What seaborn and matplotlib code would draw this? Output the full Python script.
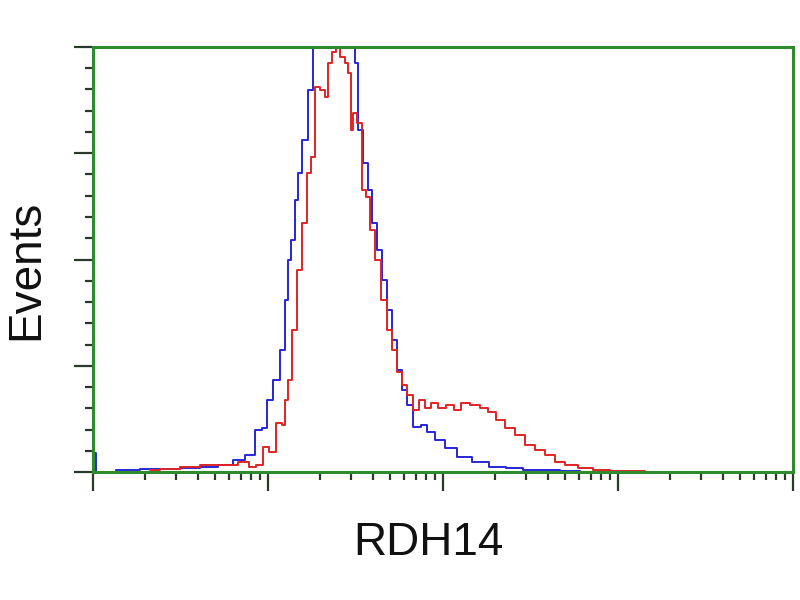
import numpy as np
import pandas as pd
import matplotlib
matplotlib.use("Agg")
import matplotlib.pyplot as plt
import seaborn as sns
from matplotlib.ticker import LogLocator, MultipleLocator, NullFormatter

# log10 of fluorescence intensity, and event counts (percent of max)
blue_log = [0.01, 0.03, 0.211, 0.326, 0.44, 0.554, 0.669, 0.754, 0.84, 0.897, 0.954, 0.983,
            1.011, 1.051, 1.086, 1.109, 1.126, 1.143, 1.166, 1.183, 1.211, 1.251, 1.269,
            1.297, 1.354, 1.411, 1.486, 1.509, 1.526, 1.566, 1.583, 1.611, 1.64, 1.669,
            1.697, 1.726, 1.754, 1.783, 1.811, 1.851, 1.897, 1.926, 1.983, 2.04, 2.114,
            2.211, 2.309, 2.411, 2.497, 2.611, 2.726, 2.84]
blue_events = [4.5, 0.0, 0.5, 0.7, 0.7, 0.9, 1.2, 1.6, 2.8, 4.0, 9.9, 10.4,
               16.9, 21.6, 28.7, 40.5, 49.9, 54.6, 64.0, 70.4, 78.1, 89.9, 108,
               112, 115, 112, 105, 96.2, 80.5, 72.7, 66.4, 58.6, 52.2, 45.2,
               38.1, 31.1, 24.0, 19.3, 15.8, 10.6, 11.1, 9.4, 7.5, 5.6, 3.5,
               2.4, 1.2, 0.9, 0.5, 0.5, 0.2, 0.0]

red_log = [0.326, 0.44, 0.554, 0.669, 0.783, 0.869, 0.914, 0.954, 0.994, 1.023, 1.069,
           1.091, 1.109, 1.126, 1.154, 1.183, 1.211, 1.24, 1.257, 1.28, 1.314, 1.337,
           1.354, 1.383, 1.4, 1.429, 1.451, 1.469, 1.48, 1.497, 1.526, 1.554, 1.571,
           1.594, 1.629, 1.669, 1.697, 1.726, 1.754, 1.783, 1.811, 1.851, 1.88, 1.914,
           1.954, 1.994, 2.04, 2.086, 2.126, 2.183, 2.24, 2.28, 2.326, 2.383, 2.44,
           2.497, 2.554, 2.611, 2.669, 2.726, 2.811, 2.897, 3.011, 3.126, 3.183]
red_events = [0.5, 0.7, 1.2, 1.6, 1.6, 2.4, 1.2, 1.6, 5.9, 4.7, 11.5,
              11.1, 16.9, 21.6, 33.4, 47.5, 58.6, 70.4, 74.1, 90.6, 89.9, 88.2,
              96.2, 98.8, 99.8, 97.6, 96.2, 93.9, 80.5, 84.5, 82.1, 66.4, 64.7,
              56.9, 49.9, 40.5, 33.4, 28.7, 23.5, 20.5, 18.1, 14.6, 16.9, 15.1,
              16.2, 15.1, 15.8, 14.6, 16.2, 15.8, 15.1, 14.1, 12.2, 10.4, 8.7,
              6.4, 5.2, 4.0, 2.4, 1.6, 0.9, 0.5, 0.2, 0.2, 0.0]

df = pd.concat([
    pd.DataFrame({"fl": 10 ** np.array(blue_log), "events": blue_events, "sample": "control"}),
    pd.DataFrame({"fl": 10 ** np.array(red_log), "events": red_events, "sample": "RDH14"}),
])

sns.set_style("white")
plt.rcParams['font.family'] = ['Liberation Sans', 'DejaVu Sans']

fig = plt.figure(figsize=(8, 6), dpi=100)
ax = fig.add_axes([0.116, 0.213, 0.875, 0.709])

sns.lineplot(data=df, x="fl", y="events", hue="sample", units="sample", estimator=None,
             sort=False, palette={"control": "#2626d8", "RDH14": "#e02424"},
             hue_order=["control", "RDH14"], drawstyle="steps-mid", linewidth=1.4,
             legend=False, ax=ax)

ax.set_xscale("log")
ax.set_xlim(1, 10000)
ax.set_ylim(0, 100)
ax.xaxis.set_major_locator(LogLocator(base=10, numticks=10))
ax.xaxis.set_minor_locator(LogLocator(base=10, subs=np.arange(2, 10), numticks=10))
ax.xaxis.set_major_formatter(NullFormatter())
ax.xaxis.set_minor_formatter(NullFormatter())
ax.yaxis.set_major_locator(MultipleLocator(25))
ax.yaxis.set_minor_locator(MultipleLocator(5))
ax.yaxis.set_major_formatter(NullFormatter())

for s in ax.spines.values():
    s.set_visible(True)
    s.set_color("#2e8b2e")
    s.set_linewidth(2.2)

ax.tick_params(which="major", direction="out", length=14, width=1.6, color="#2a3a2a",
               bottom=True, left=True)
ax.tick_params(which="minor", direction="out", length=6, width=1.6, color="#2a3a2a",
               bottom=True, left=True)

ax.set_xlabel("RDH14", fontsize=33, color="#111111")
ax.set_ylabel("Events", fontsize=33, color="#111111")
ax.xaxis.set_label_coords(0.479, -0.115)
ax.yaxis.set_label_coords(-0.064, 0.475)

fig.savefig("out.png", dpi=100)
